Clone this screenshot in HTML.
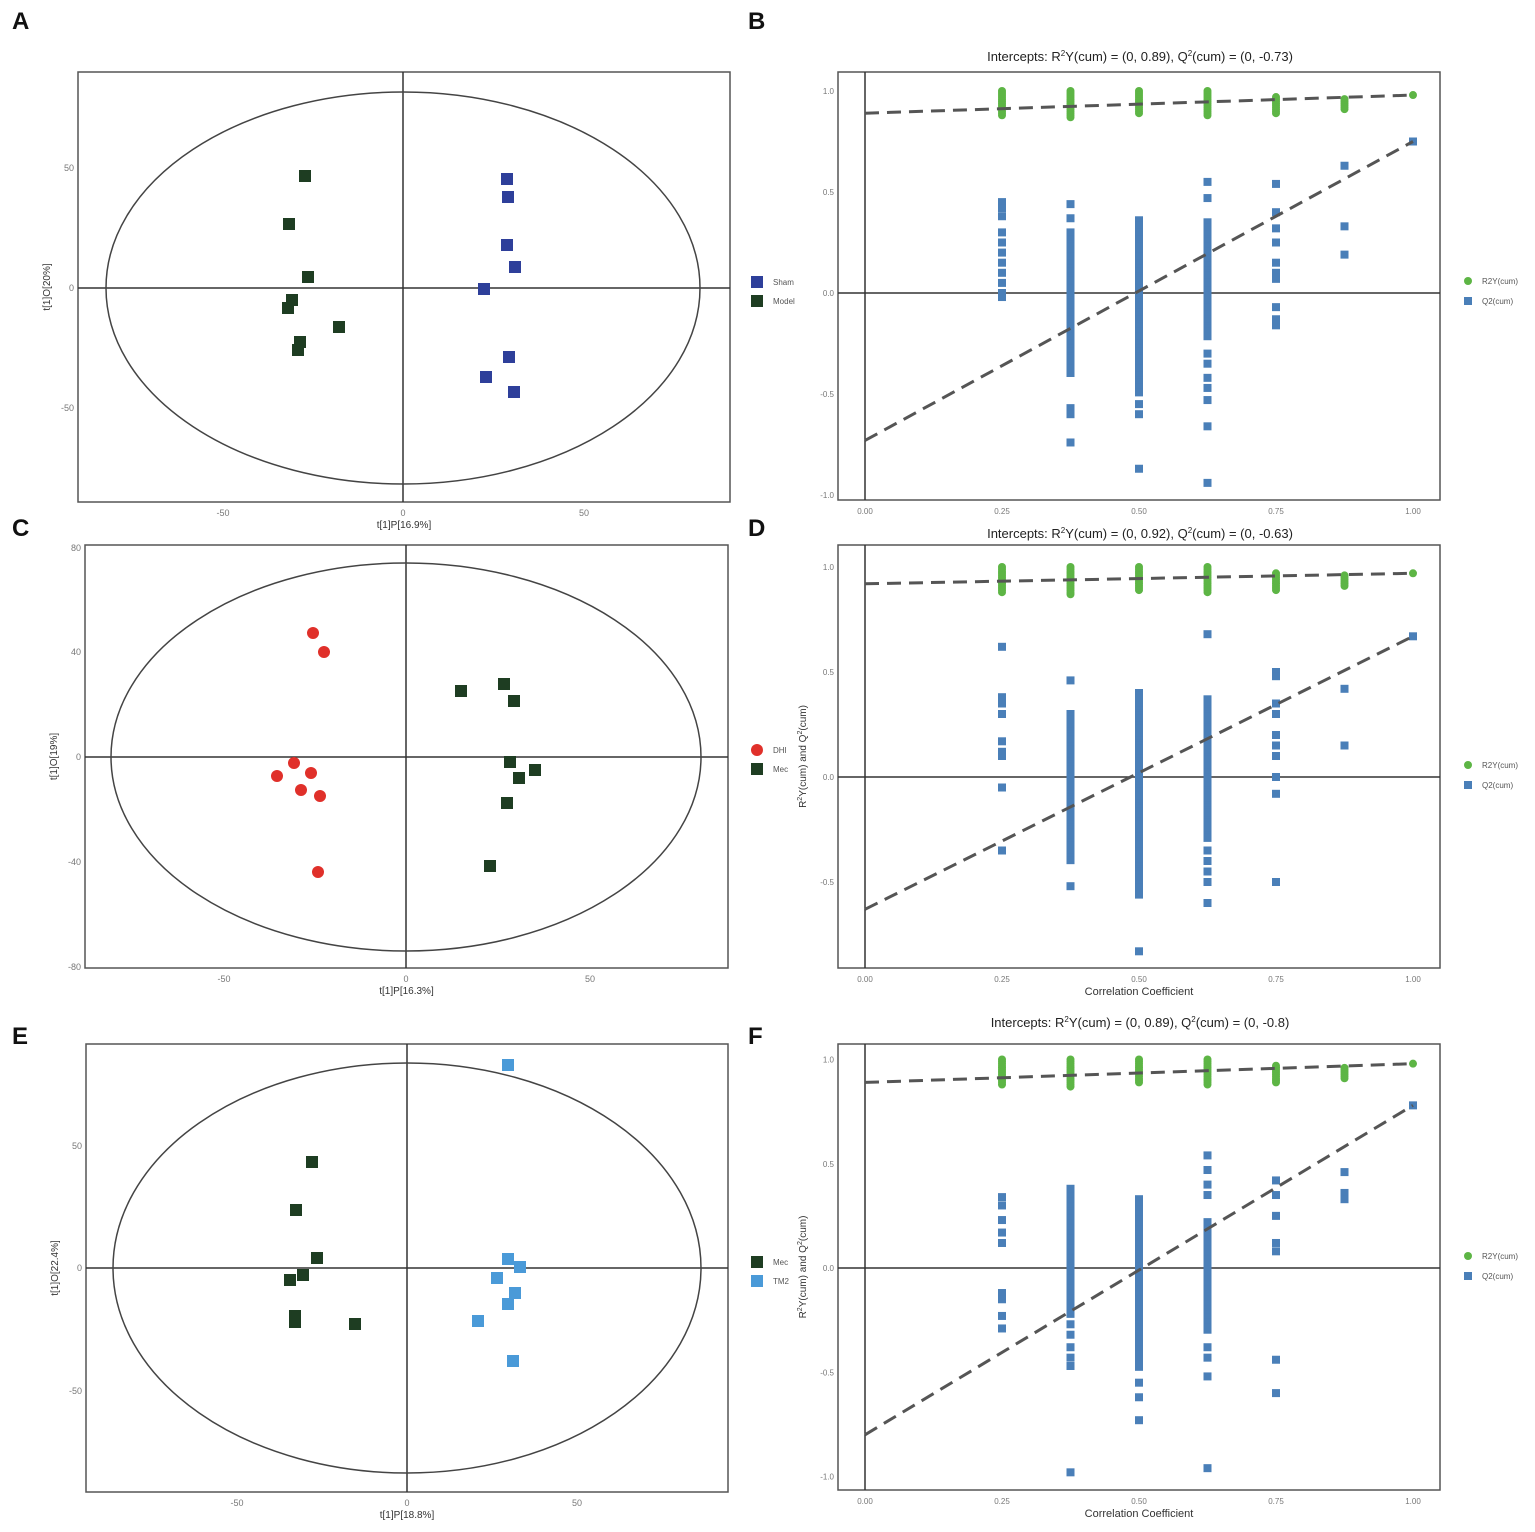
<!DOCTYPE html>
<html><head><meta charset="utf-8"><style>
html,body{margin:0;padding:0;background:#fff}
svg{display:block}
text{font-family:"Liberation Sans",sans-serif}
</style></head><body>
<svg id="s" xmlns="http://www.w3.org/2000/svg" width="1535" height="1532" viewBox="0 0 1535 1532">
<rect width="1535" height="1532" fill="#fff"/>
<g font-size="24" font-weight="bold" fill="#111">
<text x="12" y="29">A</text><text x="748" y="29">B</text>
<text x="12" y="536">C</text><text x="748" y="536">D</text>
<text x="12" y="1044">E</text><text x="748" y="1044">F</text>
</g>
</svg>
<script>
const S=document.getElementById('s');const NS='http://www.w3.org/2000/svg';
function el(t,a,txt){const e=document.createElementNS(NS,t);for(const k in a)e.setAttribute(k,a[k]);if(txt!==undefined)e.textContent=txt;S.appendChild(e);return e;}
function txt(x,y,s,o){o=o||{};return el('text',Object.assign({x:x,y:y,'font-size':o.fs||9,fill:o.fill||'#777','text-anchor':o.a||'middle'},o.extra||{}),s);}
// score plots
function score(p){
 el('rect',{x:p.x0,y:p.y0,width:p.x1-p.x0,height:p.y1-p.y0,fill:'none',stroke:'#555','stroke-width':1.5});
 el('line',{x1:p.ax,y1:p.y0,x2:p.ax,y2:p.y1,stroke:'#333','stroke-width':1.5});
 el('line',{x1:p.x0,y1:p.ay,x2:p.x1,y2:p.ay,stroke:'#333','stroke-width':1.5});
 el('ellipse',{cx:p.ax,cy:p.ay,rx:p.rx,ry:p.ry,fill:'none',stroke:'#444','stroke-width':1.5});
 p.xt.forEach(t=>txt(t[0],p.y1+14,t[1]));
 p.yt.forEach(t=>txt(p.x0-4,t[0]+3,t[1],{a:'end'}));
 txt((p.x0+p.x1)/2,p.y1+26,p.xl,{fs:10,fill:'#333'});
 txt(0,0,p.yl,{fs:10,fill:'#333',extra:{transform:`translate(${p.x0-28},${(p.y0+p.y1)/2}) rotate(-90)`}});
 p.groups.forEach((g,i)=>{
  g.pts.forEach(q=>{ if(g.circle) el('circle',{cx:q[0],cy:q[1],r:6,fill:g.c}); else el('rect',{x:q[0]-6,y:q[1]-6,width:12,height:12,fill:g.c});});
  const ly=p.ly+i*19;
  if(g.circle) el('circle',{cx:757,cy:ly,r:6,fill:g.c}); else el('rect',{x:751,y:ly-6,width:12,height:12,fill:g.c});
  txt(773,ly+3,g.name,{a:'start',fs:8,fill:'#555'});
 });
}
const DG='#1e3d22';
score({x0:78,x1:730,y0:72,y1:502,ax:403,ay:288,rx:297,ry:196,
 xt:[[223,'-50'],[403,'0'],[584,'50']],yt:[[168,'50'],[288,'0'],[408,'-50']],xl:'t[1]P[16.9%]',yl:'t[1]O[20%]',ly:282,
 groups:[{name:'Sham',c:'#2e3f9a',pts:[[507,179],[508,197],[507,245],[515,267],[484,289],[509,357],[486,377],[514,392]]},
 {name:'Model',c:DG,pts:[[305,176],[289,224],[308,277],[292,300],[288,308],[339,327],[300,342],[298,350]]}]});
score({x0:85,x1:728,y0:545,y1:968,ax:406,ay:757,rx:295,ry:194,
 xt:[[224,'-50'],[406,'0'],[590,'50']],yt:[[548,'80'],[652,'40'],[757,'0'],[862,'-40'],[967,'-80']],xl:'t[1]P[16.3%]',yl:'t[1]O[19%]',ly:750,
 groups:[{name:'DHI',c:'#e0302a',circle:true,pts:[[313,633],[324,652],[294,763],[277,776],[311,773],[301,790],[320,796],[318,872]]},
 {name:'Mec',c:DG,pts:[[461,691],[504,684],[514,701],[510,762],[535,770],[519,778],[507,803],[490,866]]}]});
score({x0:86,x1:728,y0:1044,y1:1492,ax:407,ay:1268,rx:294,ry:205,
 xt:[[237,'-50'],[407,'0'],[577,'50']],yt:[[1146,'50'],[1268,'0'],[1391,'-50']],xl:'t[1]P[18.8%]',yl:'t[1]O[22.4%]',ly:1262,
 groups:[{name:'Mec',c:DG,pts:[[312,1162],[296,1210],[317,1258],[303,1275],[290,1280],[295,1316],[295,1322],[355,1324]]},
 {name:'TM2',c:'#4a9ad8',pts:[[508,1065],[508,1259],[520,1267],[497,1278],[515,1293],[508,1304],[478,1321],[513,1361]]}]});
// validation plots
function seq(a,b){const r=[];for(let v=a;v>=b-1e-9;v-=0.012)r.push(v);return r;}
function valid(p){
 const X=v=>865+548*v, Y=v=>p.y0v-p.k*v;
 el('rect',{x:838,y:p.y0,width:602,height:p.y1-p.y0,fill:'none',stroke:'#555','stroke-width':1.5});
 el('line',{x1:865,y1:p.y0,x2:865,y2:p.y1,stroke:'#333','stroke-width':1.5});
 el('line',{x1:838,y1:Y(0),x2:1440,y2:Y(0),stroke:'#333','stroke-width':1.5});
 [0,0.25,0.5,0.75,1].forEach(v=>txt(X(v),p.y1+14,v.toFixed(2),{fs:8}));
 p.yt.forEach(v=>txt(834,Y(v)+3,v.toFixed(1),{a:'end',fs:8}));
 el('text',{x:1140,y:p.ty,'font-size':13,fill:'#222','text-anchor':'middle'}).innerHTML=`Intercepts: R<tspan dy="-5" font-size="8">2</tspan><tspan dy="5">Y(cum) = (0, ${p.r}), Q</tspan><tspan dy="-5" font-size="8">2</tspan><tspan dy="5">(cum) = (0, ${p.q})</tspan>`;
 if(p.xl){txt(1139,p.y1+27,'Correlation Coefficient',{fs:11,fill:'#333'});
  el('text',{'font-size':10,fill:'#333','text-anchor':'middle',transform:`translate(806,${(p.y0+p.y1)/2}) rotate(-90)`}).innerHTML='R<tspan dy="-4" font-size="7">2</tspan><tspan dy="4">Y(cum) and Q</tspan><tspan dy="-4" font-size="7">2</tspan><tspan dy="4">(cum)</tspan>';}
 // green
 const cols=[0.25,0.375,0.5,0.625,0.75,0.875];
 const gr=[[1,0.87],[1,0.86],[1,0.88],[1,0.87],[0.97,0.88],[0.96,0.9]];
 cols.forEach((c,i)=>{for(let v=gr[i][0];v>=gr[i][1];v-=0.01)el('circle',{cx:X(c),cy:Y(v),r:4,fill:'#5db545'});});
 el('circle',{cx:X(1),cy:Y(p.gr1),r:4,fill:'#5db545'});
 // blue
 p.blue.forEach((col,i)=>{const c=[0.25,0.375,0.5,0.625,0.75,0.875,1][i];
  col.forEach(v=>{const vs=Array.isArray(v)?seq(v[0],v[1]):[v];vs.forEach(w=>el('rect',{x:X(c)-4,y:Y(w)-4,width:8,height:8,fill:'#4a7fb8'}));});});
 el('line',{x1:865,y1:Y(p.r),x2:X(1),y2:Y(p.gr1),stroke:'#555','stroke-width':3,'stroke-dasharray':'14 8'});
 el('line',{x1:865,y1:Y(p.q),x2:X(1),y2:Y(p.q1),stroke:'#555','stroke-width':3,'stroke-dasharray':'14 8'});
 const ly=Y(0)-12;
 el('circle',{cx:1468,cy:ly,r:4,fill:'#5db545'});txt(1482,ly+3,'R2Y(cum)',{a:'start',fs:8,fill:'#555'});
 el('rect',{x:1464,y:ly+16,width:8,height:8,fill:'#4a7fb8'});txt(1482,ly+23,'Q2(cum)',{a:'start',fs:8,fill:'#555'});
}
valid({y0:72,y1:500,y0v:293,k:202,ty:61,r:0.89,q:-0.73,gr1:0.98,q1:0.75,yt:[1,0.5,0,-0.5,-1],
 blue:[[0.45,0.42,0.38,0.3,0.25,0.2,0.15,0.1,0.05,0,-0.02],[0.44,0.37,[0.3,-0.4],-0.57,-0.6,-0.74],[[0.36,-0.5],-0.55,-0.6,-0.87],[0.55,0.47,[0.35,-0.22],-0.3,-0.35,-0.42,-0.47,-0.53,-0.66,-0.94],[0.54,0.4,0.32,0.25,0.15,0.1,0.07,-0.07,-0.13,-0.16],[0.63,0.33,0.19],[0.75]]});
valid({y0:545,y1:968,y0v:777,k:210,ty:538,r:0.92,q:-0.63,gr1:0.97,q1:0.67,xl:1,yt:[1,0.5,0,-0.5],
 blue:[[0.62,0.38,0.35,0.3,0.17,0.12,0.1,-0.05,-0.35],[0.46,[0.3,-0.4],-0.52],[[0.4,-0.56],-0.83],[0.68,[0.37,-0.3],-0.35,-0.4,-0.45,-0.5,-0.6],[0.5,0.48,0.35,0.3,0.2,0.15,0.1,0,-0.08,-0.5],[0.42,0.15],[0.67]]});
valid({y0:1044,y1:1490,y0v:1268,k:208.5,ty:1027,r:0.89,q:-0.8,gr1:0.98,q1:0.78,xl:1,yt:[1,0.5,0,-0.5,-1],
 blue:[[0.34,0.3,0.23,0.17,0.12,-0.12,-0.15,-0.23,-0.29],[[0.38,-0.22],-0.27,-0.32,-0.38,-0.43,-0.47,-0.98],[[0.33,-0.48],-0.55,-0.62,-0.73],[0.54,0.47,0.4,0.35,[0.22,-0.3],-0.38,-0.43,-0.52,-0.96],[0.42,0.35,0.25,0.12,0.08,-0.44,-0.6],[0.46,0.36,0.33],[0.78]]});
</script>
</body></html>
